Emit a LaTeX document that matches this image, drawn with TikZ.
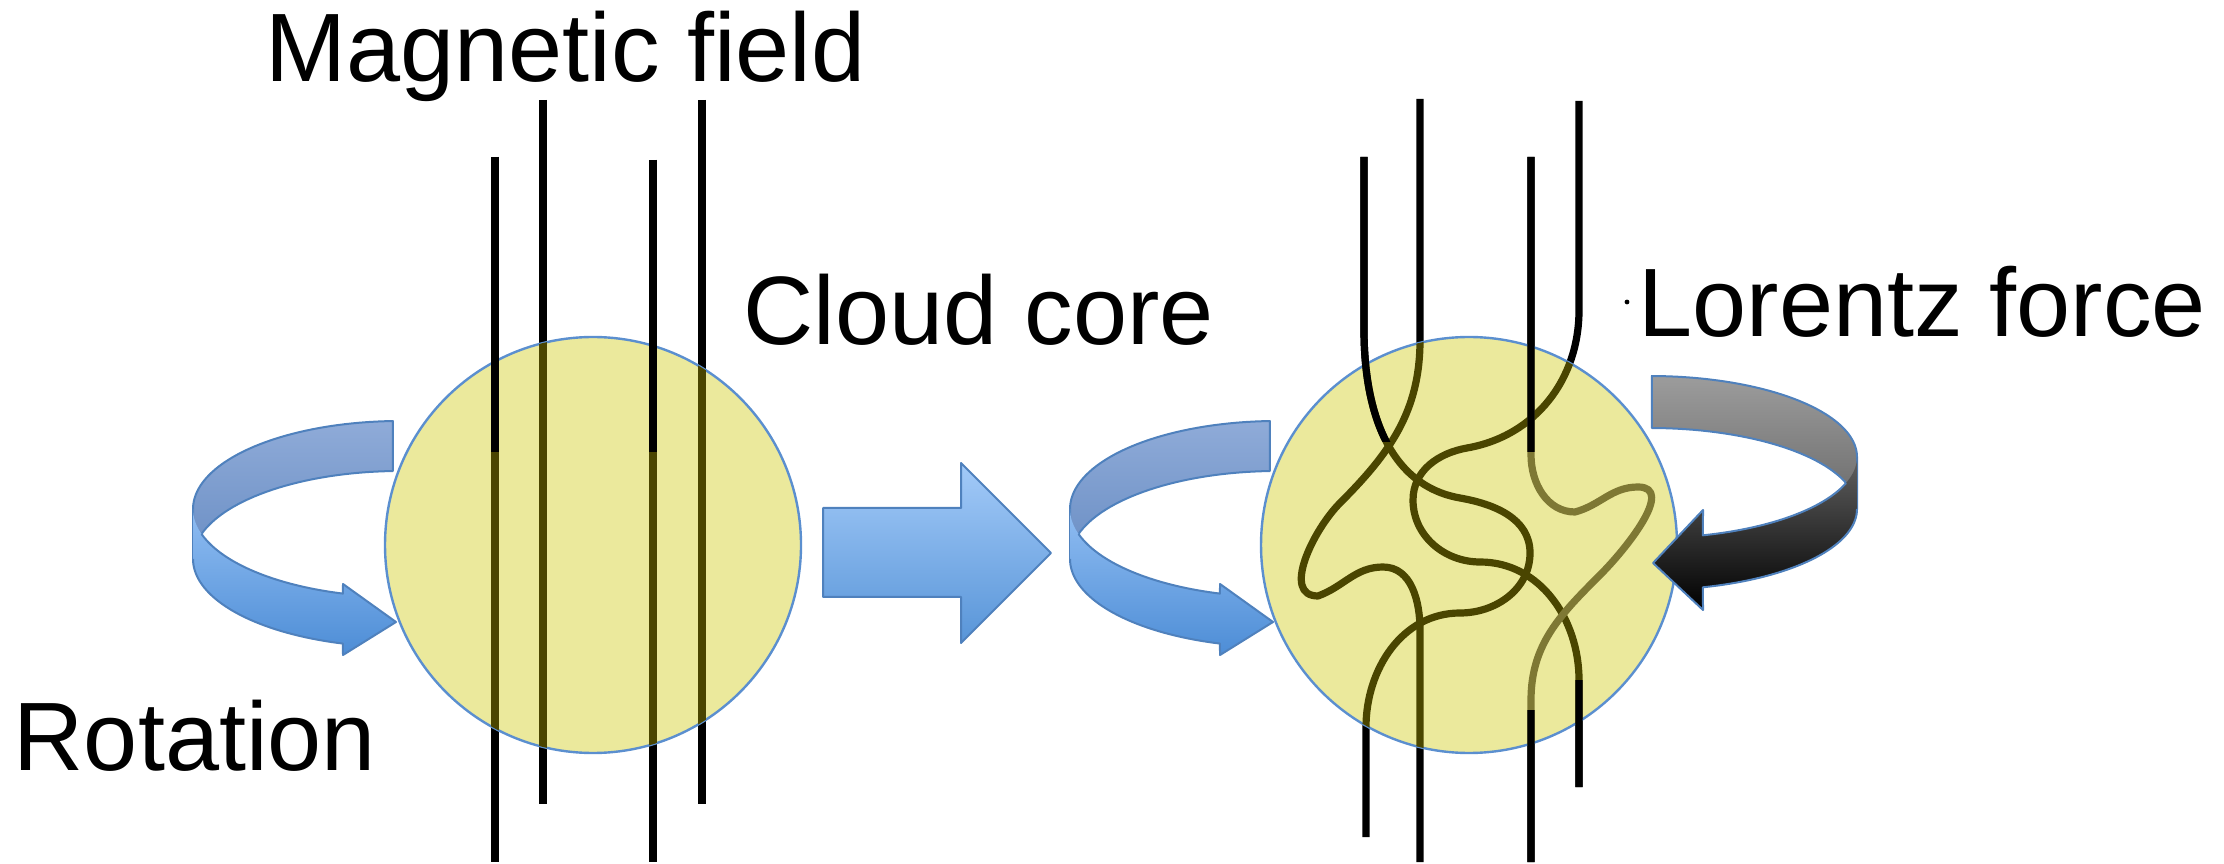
\documentclass[tikz,border=0pt]{standalone}
\usepackage{fontspec}
\setmainfont{Liberation Sans}
\begin{document}
\begin{tikzpicture}[x=0.25pt,y=-0.25pt,line join=round]
\definecolor{coreyellow}{HTML}{EBE99C}
\definecolor{coreedge}{HTML}{5B8FCF}
\definecolor{fieldolive}{HTML}{4A4500}
\definecolor{fieldlight}{HTML}{7E7834}
\definecolor{ribbonedge}{HTML}{4F81BD}
\definecolor{backtop}{HTML}{8FABD8}
\definecolor{backbot}{HTML}{6A8EC4}
\definecolor{fronttop}{HTML}{90BDF2}
\definecolor{frontbot}{HTML}{4D8DD6}
\definecolor{bigtop}{HTML}{A3CAF8}
\definecolor{bigbot}{HTML}{5895D8}
\definecolor{darkbacktop}{HTML}{9C9C9C}
\definecolor{darkbackbot}{HTML}{6A6A6A}
\definecolor{darkfronttop}{HTML}{606060}
\tikzset{
  txt/.style={font=\fontsize{24.3}{29}\selectfont, inner sep=0pt, anchor=base west},
  fieldline/.style={line width=1.8pt, draw=black},
  fieldinner/.style={line width=1.8pt, draw=fieldolive},
  core/.style={circle, fill=coreyellow, draw=coreedge, line width=0.6pt,
               minimum size=104pt, inner sep=0pt},
  ribbonline/.style={draw=ribbonedge, line width=0.5pt},
}
\useasboundingbox (0,0) rectangle (2224,864);

% ---------- twisted field lines of the right core (paths) ----------
\def\fieldA{(1364,157) -- (1364,330) to[out=-90,in=170] (1460,498)
  to[out=-10,in=90] (1530,553) to[out=-90,in=0] (1460,613)
  to[out=180,in=90] (1366,727) -- (1366,837)}
\def\fieldB{(1420,99) -- (1420,340) to[out=-90,in=45] (1340,503)
  to[out=-135,in=180] (1318,596) to[out=20,in=180] (1383,567)
  to[out=0,in=90] (1420,630) -- (1420,862)}
\def\fieldC{(1579,101) -- (1579,310) to[out=-90,in=10] (1467,448)
  to[out=190,in=90] (1413,500) to[out=-90,in=180] (1480,562)
  to[out=0,in=90] (1579,680) -- (1579,787)}
\def\fieldD{(1531,157) -- (1531,455) to[out=-90,in=180] (1575,512)
  to[out=15,in=180] (1638,487) to[out=0,in=45] (1600,575)
  to[out=-135,in=90] (1531,700) -- (1531,862)}

% ---------- left core: straight field lines ----------
\draw[fieldline] (495,157) -- (495,862);
\draw[fieldline] (543,100) -- (543,804);
\draw[fieldline] (653,160) -- (653,862);
\draw[fieldline] (702,100) -- (702,804);

\node[core] (coreL) at (593,545) {};

\begin{scope}
  \clip (coreL.center) circle[radius=52pt];
  \draw[fieldinner] (495,157) -- (495,862);
  \draw[fieldinner] (543,100) -- (543,804);
  \draw[fieldinner] (653,160) -- (653,862);
  \draw[fieldinner] (702,100) -- (702,804);
\end{scope}
\draw[fieldline] (495,157) -- (495,452);
\draw[fieldline] (653,160) -- (653,452);

% ---------- right core: tangled field lines ----------
\draw[fieldline] \fieldA;
\draw[fieldline] \fieldB;
\draw[fieldline] \fieldC;
\draw[fieldline] \fieldD;

\node[core] (coreR) at (1469,545) {};

\begin{scope}
  \clip (coreR.center) circle[radius=52pt];
  \draw[fieldinner] \fieldA;
  \draw[fieldinner] \fieldB;
  \draw[fieldinner] \fieldC;
  \draw[fieldinner, draw=fieldlight] \fieldD;
\end{scope}
\begin{scope}
  \clip (1340,100) rectangle (1398,442);
  \draw[fieldline] \fieldA;
\end{scope}
\begin{scope}
  \clip (1510,100) rectangle (1550,452);
  \draw[fieldline] \fieldD;
\end{scope}
\begin{scope}
  \clip (1510,710) rectangle (1550,870);
  \draw[fieldline] \fieldD;
\end{scope}
\begin{scope}
  \clip (1560,680) rectangle (1600,800);
  \draw[fieldline] \fieldC;
\end{scope}

% ---------- rotation ribbons (blue) ----------
\foreach \dx in {0,877} {
  \begin{scope}[shift={(\dx,0)}]
    \draw[ribbonline, top color=backtop, bottom color=backbot]
      plot[domain=92:180, samples=40] ({400+207*cos(\x)},{509-88*sin(\x)})
      -- plot[domain=180:92, samples=40] ({400+207*cos(\x)},{559-88*sin(\x)}) -- cycle;
    \shade[top color=fronttop, bottom color=frontbot]
      plot[domain=180:254, samples=40] ({400+207*cos(\x)},{509-88*sin(\x)})
      -- (343,584) -- (396,622) -- (343,655)
      -- plot[domain=254:180, samples=40] ({400+207*cos(\x)},{559-88*sin(\x)}) -- cycle;
    \draw[ribbonline]
      plot[domain=196.5:254, samples=40] ({400+207*cos(\x)},{509-88*sin(\x)})
      -- (343,584) -- (396,622) -- (343,655)
      -- plot[domain=254:180, samples=40] ({400+207*cos(\x)},{559-88*sin(\x)});
  \end{scope}
}

% ---------- arrow between the two cores ----------
\draw[draw=ribbonedge, line width=0.5pt, top color=bigtop, bottom color=bigbot]
  (823,508) -- (961,508) -- (961,463) -- (1051,553) -- (961,643) -- (961,597)
  -- (823,597) -- cycle;

% ---------- Lorentz force ribbon (dark) ----------
\draw[ribbonline, top color=darkbacktop, bottom color=darkbackbot]
  plot[domain=89.5:0, samples=40] ({1650+207*cos(\x)},{457-81*sin(\x)})
  -- plot[domain=0:89.5, samples=40] ({1650+207*cos(\x)},{509-81*sin(\x)}) -- cycle;
\shade[top color=darkfronttop, bottom color=black]
  plot[domain=0:-75.2, samples=40] ({1650+207*cos(\x)},{457-81*sin(\x)})
  -- (1703,510) -- (1653,563) -- (1703,610)
  -- plot[domain=-75.2:0, samples=40] ({1650+207*cos(\x)},{509-81*sin(\x)}) -- cycle;
\draw[ribbonline]
  plot[domain=-18.7:-75.2, samples=40] ({1650+207*cos(\x)},{457-81*sin(\x)})
  -- (1703,510) -- (1653,563) -- (1703,610)
  -- plot[domain=-75.2:0, samples=40] ({1650+207*cos(\x)},{509-81*sin(\x)});

\fill (1627,302) circle[radius=0.6pt];

% ---------- labels ----------
\node[txt] (magfield) at (265,82) {Magnetic field};
\node[txt] (cloudcore) at (743,345) {Cloud core};
\node[txt] (lorentz) at (1638,337) {Lorentz force};
\node[txt] (rotation) at (13,770) {Rotation};
\end{tikzpicture}
\end{document}
